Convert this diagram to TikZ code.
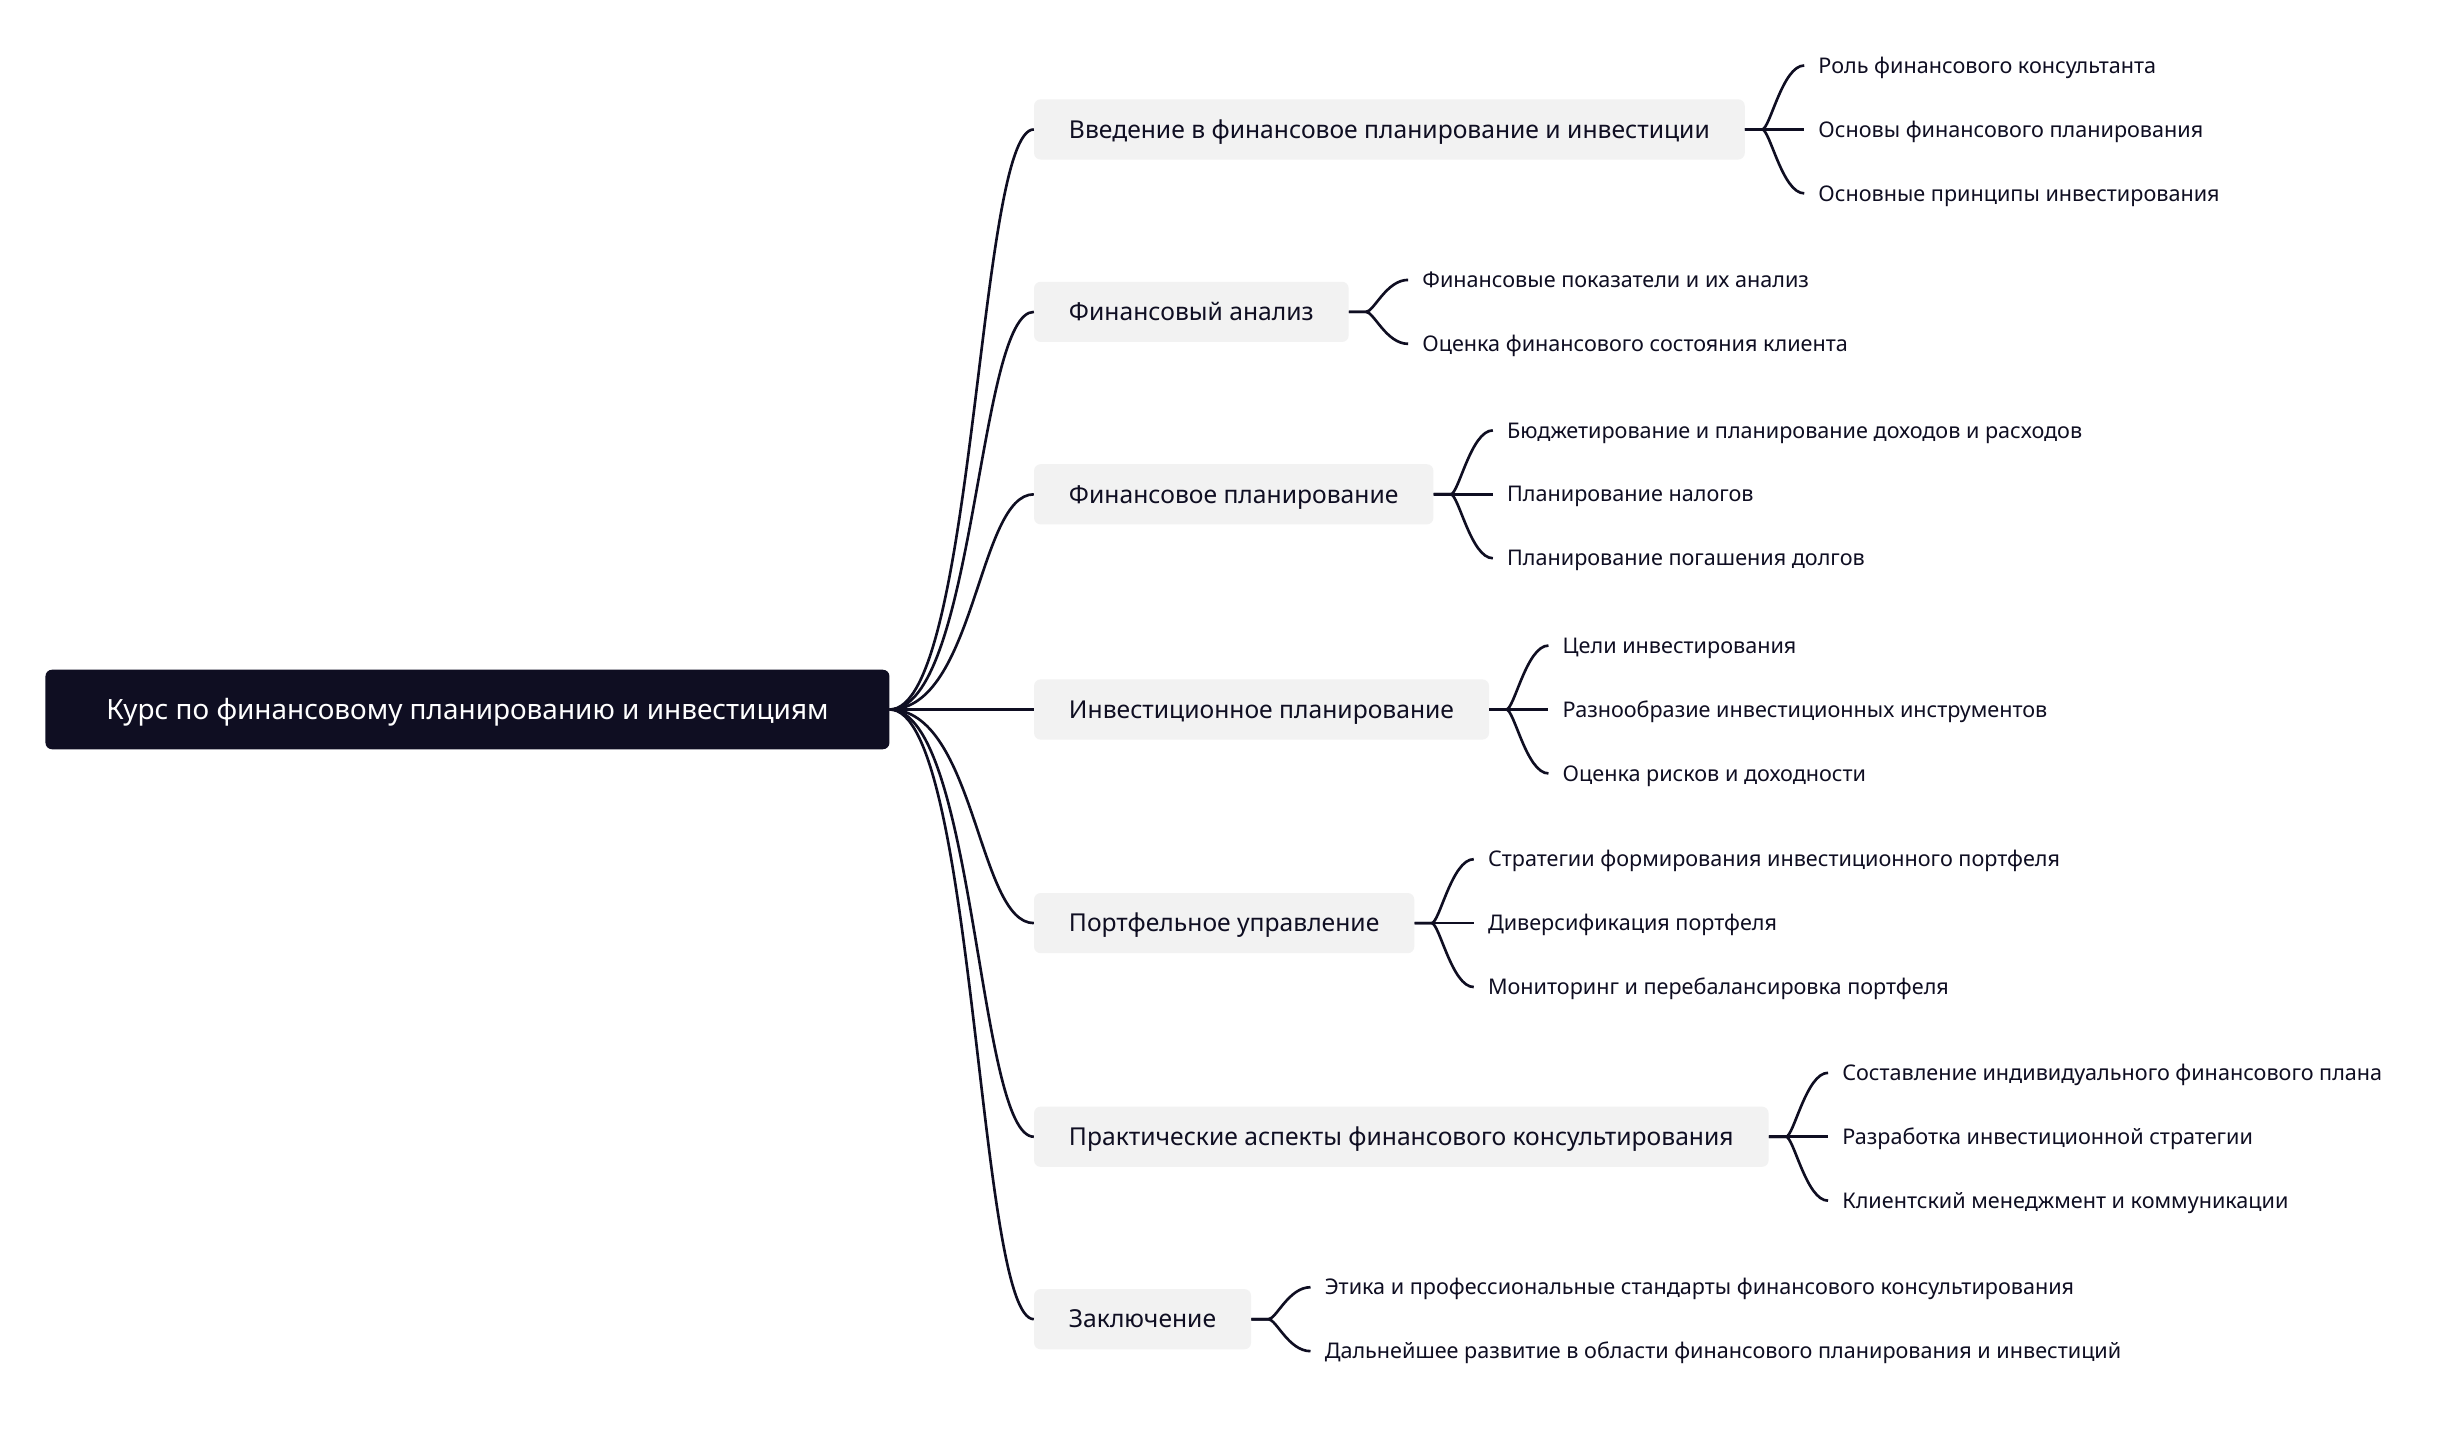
\documentclass[tikz,border=0pt]{standalone}
\usepackage{fontspec}
\setmainfont{Noto Sans}
\usetikzlibrary{positioning}
\definecolor{mapnavy}{HTML}{0F0E22}
\definecolor{topicgray}{HTML}{F2F2F2}

\begin{document}
\begin{tikzpicture}[
    x=0.05cm, y=-0.05cm,
    rootbox/.style={fill=mapnavy, text=white, rounded corners=6pt, minimum height=2.55cm, inner xsep=1.95cm, text height=23pt, text depth=4.9pt, font=\fontsize{25.5}{30}\selectfont},
    topicbox/.style={fill=topicgray, text=mapnavy, rounded corners=6pt, minimum height=1.93cm, inner xsep=1.12cm, text height=20.3pt, text depth=4.3pt, font=\fontsize{22.5}{27}\selectfont},
    leaftext/.style={text=mapnavy, inner xsep=0.45cm, inner ysep=0pt, text height=17.7pt, text depth=3.7pt, font=\fontsize{19.7}{23}\selectfont},
    link/.style={draw=mapnavy, line width=2.4pt},
    fork/.style={to path={-- ++(11,0) .. controls +(5,0) and +(-14,0) .. (\tikztotarget)}}
]
\useasboundingbox[fill=white] (0,0) rectangle (1568,919);

% root and main topics
\node[rootbox, anchor=west] (root) at (29,455) {Курс по финансовому планированию и инвестициям};

\node[topicbox, anchor=west] (intro) at (663,83) {Введение в финансовое планирование и инвестиции};
\node[topicbox, anchor=west] (analysis) at (663,200) {Финансовый анализ};
\node[topicbox, anchor=west] (finplan) at (663,317) {Финансовое планирование};
\node[topicbox, anchor=west] (invplan) at (663,455) {Инвестиционное планирование};
\node[topicbox, anchor=west] (portfolio) at (663,592) {Портфельное управление};
\node[topicbox, anchor=west] (practice) at (663,729) {Практические аспекты финансового консультирования};
\node[topicbox, anchor=west] (summary) at (663,846) {Заключение};

\draw[link] (root.east) .. controls +(55,0) and +(-36,0) .. (intro.west);
\draw[link] (root.east) .. controls +(55,0) and +(-36,0) .. (analysis.west);
\draw[link] (root.east) .. controls +(55,0) and +(-36,0) .. (finplan.west);
\draw[link] (root.east) -- (invplan.west);
\draw[link] (root.east) .. controls +(55,0) and +(-36,0) .. (portfolio.west);
\draw[link] (root.east) .. controls +(55,0) and +(-36,0) .. (practice.west);
\draw[link] (root.east) .. controls +(55,0) and +(-36,0) .. (summary.west);

% subtopics
\node[leaftext, anchor=west] (intro-a) at ([shift={(38,-41)}]intro.east) {Роль финансового консультанта};
\node[leaftext, anchor=west] (intro-b) at ([shift={(38,0)}]intro.east) {Основы финансового планирования};
\node[leaftext, anchor=west] (intro-c) at ([shift={(38,41)}]intro.east) {Основные принципы инвестирования};
\draw[link] (intro.east) to[fork] (intro-a.west);
\draw[link] (intro.east) -- (intro-b.west);
\draw[link] (intro.east) to[fork] (intro-c.west);

\node[leaftext, anchor=west] (analysis-a) at ([shift={(38,-20.5)}]analysis.east) {Финансовые показатели и их анализ};
\node[leaftext, anchor=west] (analysis-b) at ([shift={(38,20.5)}]analysis.east) {Оценка финансового состояния клиента};
\draw[link] (analysis.east) to[fork] (analysis-a.west);
\draw[link] (analysis.east) to[fork] (analysis-b.west);

\node[leaftext, anchor=west] (finplan-a) at ([shift={(38,-41)}]finplan.east) {Бюджетирование и планирование доходов и расходов};
\node[leaftext, anchor=west] (finplan-b) at ([shift={(38,0)}]finplan.east) {Планирование налогов};
\node[leaftext, anchor=west] (finplan-c) at ([shift={(38,41)}]finplan.east) {Планирование погашения долгов};
\draw[link] (finplan.east) to[fork] (finplan-a.west);
\draw[link] (finplan.east) -- (finplan-b.west);
\draw[link] (finplan.east) to[fork] (finplan-c.west);

\node[leaftext, anchor=west] (invplan-a) at ([shift={(38,-41)}]invplan.east) {Цели инвестирования};
\node[leaftext, anchor=west] (invplan-b) at ([shift={(38,0)}]invplan.east) {Разнообразие инвестиционных инструментов};
\node[leaftext, anchor=west] (invplan-c) at ([shift={(38,41)}]invplan.east) {Оценка рисков и доходности};
\draw[link] (invplan.east) to[fork] (invplan-a.west);
\draw[link] (invplan.east) -- (invplan-b.west);
\draw[link] (invplan.east) to[fork] (invplan-c.west);

\node[leaftext, anchor=west] (portfolio-a) at ([shift={(38,-41)}]portfolio.east) {Стратегии формирования инвестиционного портфеля};
\node[leaftext, anchor=west] (portfolio-b) at ([shift={(38,0)}]portfolio.east) {Диверсификация портфеля};
\node[leaftext, anchor=west] (portfolio-c) at ([shift={(38,41)}]portfolio.east) {Мониторинг и перебалансировка портфеля};
\draw[link] (portfolio.east) to[fork] (portfolio-a.west);
\draw[link] (portfolio.east) -- (portfolio-b.west);
\draw[link] (portfolio.east) to[fork] (portfolio-c.west);

\node[leaftext, anchor=west] (practice-a) at ([shift={(38,-41)}]practice.east) {Составление индивидуального финансового плана};
\node[leaftext, anchor=west] (practice-b) at ([shift={(38,0)}]practice.east) {Разработка инвестиционной стратегии};
\node[leaftext, anchor=west] (practice-c) at ([shift={(38,41)}]practice.east) {Клиентский менеджмент и коммуникации};
\draw[link] (practice.east) to[fork] (practice-a.west);
\draw[link] (practice.east) -- (practice-b.west);
\draw[link] (practice.east) to[fork] (practice-c.west);

\node[leaftext, anchor=west] (summary-a) at ([shift={(38,-20.5)}]summary.east) {Этика и профессиональные стандарты финансового консультирования};
\node[leaftext, anchor=west] (summary-b) at ([shift={(38,20.5)}]summary.east) {Дальнейшее развитие в области финансового планирования и инвестиций};
\draw[link] (summary.east) to[fork] (summary-a.west);
\draw[link] (summary.east) to[fork] (summary-b.west);
\end{tikzpicture}
\end{document}
